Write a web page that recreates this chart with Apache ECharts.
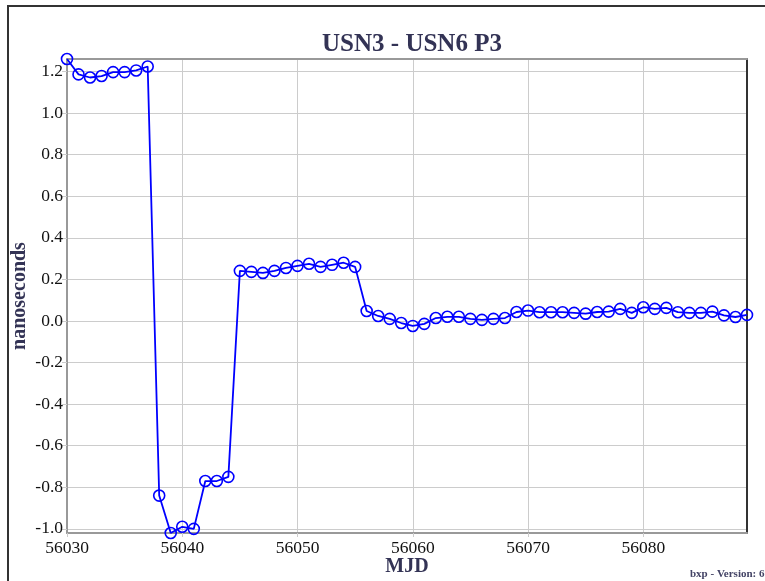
<!DOCTYPE html>
<html>
<head>
<meta charset="utf-8">
<script src="https://cdn.jsdelivr.net/npm/echarts@6/dist/echarts.min.js"></script>
<style>
  html, body { margin: 0; padding: 0; background: #ffffff; }
  #chart { width: 765px; height: 581px; }
</style>
</head>
<body>
<div id="chart"></div>
<script>
// Daily clock difference USN3 - USN6 (P3), in nanoseconds
const mjd = [
  56030, 56031, 56032, 56033, 56034, 56035, 56036, 56037, 56038, 56039,
  56040, 56041, 56042, 56043, 56044, 56045, 56046, 56047, 56048, 56049,
  56050, 56051, 56052, 56053, 56054, 56055, 56056, 56057, 56058, 56059,
  56060, 56061, 56062, 56063, 56064, 56065, 56066, 56067, 56068, 56069,
  56070, 56071, 56072, 56073, 56074, 56075, 56076, 56077, 56078, 56079,
  56080, 56081, 56082, 56083, 56084, 56085, 56086, 56087, 56088, 56089
];
const nanoseconds = [
  1.260, 1.186, 1.171, 1.178, 1.197, 1.197, 1.205, 1.224, -0.840, -1.020,
  -0.990, -1.000, -0.770, -0.770, -0.750, 0.241, 0.236, 0.231, 0.241, 0.255,
  0.265, 0.275, 0.260, 0.270, 0.280, 0.260, 0.048, 0.024, 0.010, -0.010,
  -0.024, -0.014, 0.014, 0.020, 0.020, 0.010, 0.005, 0.010, 0.014, 0.043,
  0.050, 0.042, 0.042, 0.042, 0.039, 0.035, 0.043, 0.045, 0.058, 0.039,
  0.066, 0.058, 0.063, 0.042, 0.039, 0.039, 0.045, 0.027, 0.019, 0.029
];

const titleText = 'USN3 - USN6 P3';
const xName = 'MJD';
const yName = 'nanoseconds';
const footer = 'bxp - Version: 6.0';

const xMin = 56030, xMax = 56089, xStep = 10;
const yMin = -1.02, yMax = 1.26;

const serif = '"Liberation Serif", "DejaVu Serif", serif';
const inkColor = '#333355';
const gridColor = '#cccccc';

const points = mjd.map((d, i) => [d, nanoseconds[i]]);

const chart = echarts.init(document.getElementById('chart'), null, { renderer: 'canvas' });

chart.setOption({
  backgroundColor: '#ffffff',
  animation: false,
  title: {
    text: titleText,
    left: 407,
    top: 27,
    textAlign: 'center',
    textStyle: { fontFamily: serif, fontWeight: 'bold', fontSize: 25, color: inkColor }
  },
  grid: { left: 67, right: 18, top: 59, bottom: 48, containLabel: false, outerBoundsMode: 'none' },
  xAxis: [
    {
      type: 'value',
      min: xMin,
      max: xMax,
      interval: xStep,
      name: xName,
      nameLocation: 'middle',
      nameGap: 24,
      nameMoveOverlap: false,
      nameTextStyle: { fontFamily: serif, fontWeight: 'bold', fontSize: 20, color: inkColor },
      axisLine: { show: true, onZero: false, lineStyle: { color: '#999999', width: 2 } },
      axisTick: { show: true, length: 4, lineStyle: { color: gridColor } },
      axisLabel: {
        show: true, margin: 6, showMaxLabel: false,
        fontFamily: serif, fontSize: 17.5, color: '#111111',
        formatter: v => String(v)
      },
      splitLine: { show: true, lineStyle: { color: gridColor, width: 1 } }
    },
    {
      type: 'value', position: 'top', min: xMin, max: xMax,
      axisLine: { show: true, onZero: false, lineStyle: { color: '#999999', width: 2 } },
      axisTick: { show: false }, axisLabel: { show: false }, splitLine: { show: false }
    }
  ],
  yAxis: [
    {
      type: 'value',
      min: yMin,
      max: yMax,
      splitNumber: 11,
      name: yName,
      nameLocation: 'middle',
      nameGap: 37,
      nameMoveOverlap: false,
      nameTextStyle: { fontFamily: serif, fontWeight: 'bold', fontSize: 20, color: inkColor },
      axisLine: { show: true, onZero: false, lineStyle: { color: '#999999', width: 2 } },
      axisTick: { show: true, length: 5, lineStyle: { color: gridColor } },
      axisLabel: {
        show: true, margin: 4, showMinLabel: false, showMaxLabel: false,
        fontFamily: serif, fontSize: 17.5, color: '#111111',
        formatter: v => v.toFixed(1)
      },
      splitLine: { show: true, lineStyle: { color: gridColor, width: 1 } }
    },
    {
      type: 'value', position: 'right', min: yMin, max: yMax,
      axisLine: { show: true, onZero: false, lineStyle: { color: '#333333', width: 2 } },
      axisTick: { show: false }, axisLabel: { show: false }, splitLine: { show: false }
    }
  ],
  graphic: [
    {
      type: 'polyline',
      shape: { points: [[8, 581], [8, 6], [765, 6]] },
      style: { stroke: '#333333', lineWidth: 2, fill: null },
      silent: true
    },
    {
      type: 'text',
      left: 690,
      top: 569,
      style: { text: footer, font: 'bold 11px ' + serif, fill: '#444466' },
      silent: true
    }
  ],
  series: [
    {
      type: 'line',
      data: points,
      xAxisIndex: 0,
      yAxisIndex: 0,
      clip: true,
      symbol: 'circle',
      symbolSize: 11,
      showAllSymbol: true,
      lineStyle: { color: '#0000ff', width: 1.8 },
      itemStyle: { color: 'rgba(0,0,0,0)', borderColor: '#0000ff', borderWidth: 1.6 },
      emphasis: { disabled: true }
    }
  ]
});
</script>
</body>
</html>
